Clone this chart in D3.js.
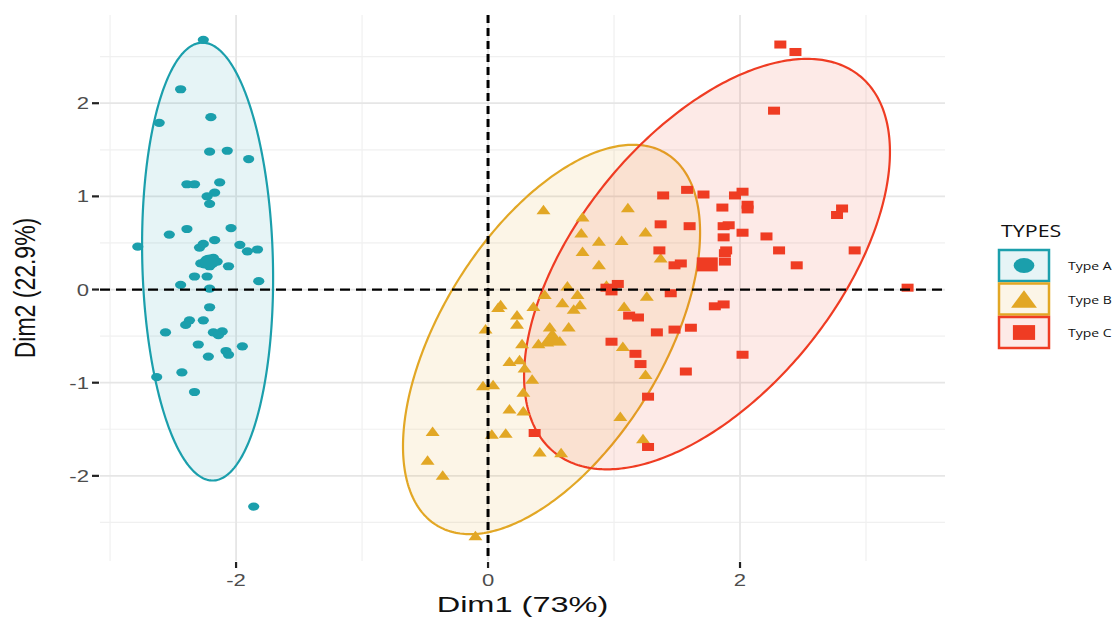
<!DOCTYPE html>
<html><head><meta charset="utf-8">
<script src="https://cdn.jsdelivr.net/npm/d3@7"></script>
<style>body{margin:0;background:#fff}</style>
</head><body>
<svg id="c" width="1115" height="617"></svg>
<script>
// ---------- data ----------
const types = ["Type A", "Type B", "Type C"];
const typeA = [[-2.26,2.68],[-2.44,2.15],[-2.20,1.85],[-2.61,1.79],[-2.21,1.48],[-2.07,1.49],[-1.90,1.40],[-2.39,1.13],[-2.33,1.13],[-2.13,1.15],[-2.17,1.04],[-2.23,1.00],[-2.21,0.92],[-2.53,0.59],[-2.39,0.65],[-2.04,0.66],[-2.78,0.46],[-2.29,0.45],[-2.26,0.49],[-2.17,0.53],[-1.97,0.48],[-1.91,0.41],[-1.83,0.43],[-2.22,0.30],[-2.25,0.27],[-2.15,0.30],[-2.21,0.25],[-2.18,0.34],[-2.28,0.28],[-2.06,0.25],[-2.33,0.14],[-2.23,0.14],[-2.44,0.05],[-1.82,0.09],[-2.21,0.01],[-2.21,-0.19],[-2.37,-0.33],[-2.40,-0.38],[-2.26,-0.33],[-2.56,-0.46],[-2.18,-0.46],[-2.11,-0.45],[-2.14,-0.49],[-2.30,-0.59],[-1.95,-0.61],[-2.08,-0.66],[-2.06,-0.70],[-2.22,-0.72],[-2.43,-0.89],[-2.63,-0.94],[-2.33,-1.10],[-1.86,-2.33]];
const typeB = [[0.44,0.86],[0.75,0.78],[1.11,0.88],[0.74,0.61],[0.88,0.52],[1.06,0.53],[1.25,0.62],[0.75,0.41],[0.88,0.27],[1.37,0.34],[0.63,0.04],[0.94,0.05],[0.45,-0.05],[0.71,-0.05],[1.26,-0.07],[0.10,-0.16],[0.08,-0.19],[0.59,-0.14],[0.73,-0.16],[0.36,-0.18],[0.68,-0.21],[1.08,-0.18],[0.23,-0.27],[0.23,-0.37],[0.49,-0.40],[0.64,-0.40],[-0.02,-0.42],[0.27,-0.58],[0.40,-0.58],[0.47,-0.56],[0.57,-0.55],[1.07,-0.61],[0.17,-0.77],[0.25,-0.75],[0.29,-0.84],[1.25,-0.91],[0.35,-0.96],[-0.04,-1.03],[0.04,-1.02],[0.28,-1.10],[0.17,-1.28],[0.28,-1.30],[1.05,-1.36],[-0.44,-1.52],[0.03,-1.55],[0.14,-1.54],[1.23,-1.60],[0.41,-1.74],[0.58,-1.75],[-0.48,-1.83],[-0.36,-1.99],[-0.10,-2.64]];
const typeC = [[2.32,2.63],[2.44,2.55],[2.27,1.92],[1.39,1.01],[1.58,1.07],[1.71,1.02],[1.96,1.01],[2.02,1.05],[1.86,0.88],[2.06,0.91],[2.06,0.86],[2.81,0.87],[2.77,0.80],[1.37,0.70],[1.60,0.68],[1.87,0.68],[1.91,0.69],[1.87,0.56],[2.02,0.61],[2.21,0.57],[1.36,0.42],[1.89,0.42],[1.88,0.39],[2.31,0.42],[2.91,0.42],[1.48,0.26],[1.53,0.28],[1.88,0.30],[2.45,0.26],[1.03,0.06],[0.94,0.02],[0.98,-0.02],[1.45,-0.04],[3.33,0.02],[1.80,-0.18],[1.87,-0.16],[1.12,-0.28],[1.19,-0.30],[1.34,-0.46],[1.48,-0.43],[1.61,-0.41],[0.98,-0.56],[1.17,-0.69],[1.21,-0.80],[2.02,-0.70],[1.57,-0.88],[1.27,-1.15],[1.27,-1.69],[0.37,-1.54]];
const typeMeans = [[-2.21,0.30],[0.51,-0.51],[1.74,0.27]];
// confidence ellipses: centre, half extents (x, y), phase
const ellipseCenter = [[-2.226,0.30],[0.504,-0.536],[1.738,0.273]];
const ellipseHalfExtent = [[0.52,2.35],[1.179,2.09],[1.452,2.203]];
const ellipsePhase = [-0.077,0.581,0.578];
const xTicks = [-2, 0, 2];
const yTicks = [-2, -1, 0, 1, 2];
const xMinor = [-3, -1, 1, 3];
const yMinor = [-2.5, -1.5, -0.5, 0.5, 1.5, 2.5];
const xTitle = "Dim1 (73%)";
const yTitle = "Dim2 (22.9%)";
const legendTitle = "TYPES";

// ---------- drawing ----------
const colors = ["#1b9fac", "#e2a725", "#ef3c23"];
const svg = d3.select("#c");
const L = 100, R = 945, T = 15, B = 561;
const x = d3.scaleLinear().domain([-3.08, 3.627]).range([L, R]);
const y = d3.scaleLinear().domain([-2.914, 2.947]).range([B, T]);
const FONT = "'Liberation Sans', Arial, sans-serif";

const grid = svg.append("g");
grid.selectAll(".vmin").data(xMinor).enter().append("line")
  .attr("x1", d => x(d)).attr("x2", d => x(d)).attr("y1", T).attr("y2", B)
  .attr("stroke", "#f0f0f0").attr("stroke-width", 1.2);
grid.selectAll(".hmin").data(yMinor).enter().append("line")
  .attr("y1", d => y(d)).attr("y2", d => y(d)).attr("x1", L).attr("x2", R)
  .attr("stroke", "#f0f0f0").attr("stroke-width", 1.2);
grid.selectAll(".vmaj").data(xTicks).enter().append("line")
  .attr("x1", d => x(d)).attr("x2", d => x(d)).attr("y1", T).attr("y2", B)
  .attr("stroke", "#e6e6e6").attr("stroke-width", 1.8);
grid.selectAll(".hmaj").data(yTicks).enter().append("line")
  .attr("y1", d => y(d)).attr("y2", d => y(d)).attr("x1", L).attr("x2", R)
  .attr("stroke", "#e6e6e6").attr("stroke-width", 1.8);

// ellipses
const line = d3.line().x(d => x(d[0])).y(d => y(d[1])).curve(d3.curveLinearClosed);
types.forEach((t, i) => {
  const pts = d3.range(0, 360).map(k => {
    const a = k / 360 * 2 * Math.PI;
    return [ellipseCenter[i][0] + ellipseHalfExtent[i][0] * Math.cos(a),
            ellipseCenter[i][1] + ellipseHalfExtent[i][1] * Math.sin(a + ellipsePhase[i])];
  });
  svg.append("path").attr("d", line(pts))
    .attr("fill", colors[i]).attr("fill-opacity", 0.11)
    .attr("stroke", colors[i]).attr("stroke-width", 2.2);
});

function marker(g, i, px, py, s) {
  if (i === 0) {
    g.append("ellipse").attr("cx", px).attr("cy", py).attr("rx", 5.6 * s).attr("ry", 4.1 * s).attr("fill", colors[0]);
  } else if (i === 1) {
    const w = 14 * s, h = 9.5 * s;
    g.append("path").attr("d", `M${px - w/2},${py + h/2}L${px + w/2},${py + h/2}L${px},${py - h/2}Z`).attr("fill", colors[1]);
  } else {
    const w = 12 * s, h = 8 * s;
    g.append("rect").attr("x", px - w/2).attr("y", py - h/2).attr("width", w).attr("height", h).attr("fill", colors[2]);
  }
}
const pg = svg.append("g");
[typeA, typeB, typeC].forEach((arr, i) => {
  arr.forEach(d => marker(pg, i, x(d[0]), y(d[1]), 1));
});
typeMeans.forEach((d, i) => marker(pg, i, x(d[0]), y(d[1]), 1.75));

// zero lines
svg.append("line").attr("x1", L).attr("x2", R).attr("y1", y(0)).attr("y2", y(0))
  .attr("stroke", "#000").attr("stroke-width", 2.2).attr("stroke-dasharray", "10,6");
svg.append("line").attr("x1", x(0)).attr("x2", x(0)).attr("y1", T).attr("y2", B)
  .attr("stroke", "#000").attr("stroke-width", 3).attr("stroke-dasharray", "8,5");

// axes
const ax = svg.append("g");
ax.selectAll(".xt").data(xTicks).enter().append("line")
  .attr("x1", d => x(d)).attr("x2", d => x(d)).attr("y1", B + 1).attr("y2", B + 7)
  .attr("stroke", "#222").attr("stroke-width", 2.2);
ax.selectAll(".yt").data(yTicks).enter().append("line")
  .attr("y1", d => y(d)).attr("y2", d => y(d)).attr("x1", L - 8).attr("x2", L - 1)
  .attr("stroke", "#222").attr("stroke-width", 2.2);

function stext(g, txt, px, py, size, sx, anchor, color, rot, family) {
  return g.append("text").text(txt)
    .attr("transform", `translate(${px},${py}) rotate(${rot || 0}) scale(${sx},1)`)
    .attr("font-family", family || FONT).attr("font-size", size)
    .attr("text-anchor", anchor).attr("fill", color);
}
xTicks.forEach(d => stext(ax, d < 0 ? "-" + Math.abs(d) : String(d), x(d), 586, 17, 1.3, "middle", "#4d4d4d"));
yTicks.forEach(d => stext(ax, d < 0 ? "-" + Math.abs(d) : String(d), 89, y(d) + 6, 17, 1.3, "end", "#4d4d4d"));
stext(ax, xTitle, (L + R) / 2, 612, 22, 1.48, "middle", "#111");
// rotated title: screen-x stretch applied before rotation
svg.append("text").text(yTitle)
  .attr("transform", `translate(35,${(T + B) / 2}) scale(1.25,1) rotate(-90)`)
  .attr("font-family", FONT).attr("font-size", 23).attr("text-anchor", "middle").attr("fill", "#111");

// legend
const lg = svg.append("g");
stext(lg, legendTitle, 1001, 237, 16.5, 1.3, "start", "#111", 0, "'Open Sans', sans-serif");
types.forEach((t, i) => {
  const ky = 250 + i * 33.5;
  lg.append("rect").attr("x", 999).attr("y", ky).attr("width", 50).attr("height", 31)
    .attr("fill", colors[i]).attr("fill-opacity", 0.11)
    .attr("stroke", colors[i]).attr("stroke-width", 2.5);
  marker(lg, i, 1024, ky + 15.5, 1.85);
  stext(lg, t, 1068, ky + 20, 10, 1.4, "start", "#111", 0, "'Open Sans', sans-serif");
});
</script>
</body></html>
